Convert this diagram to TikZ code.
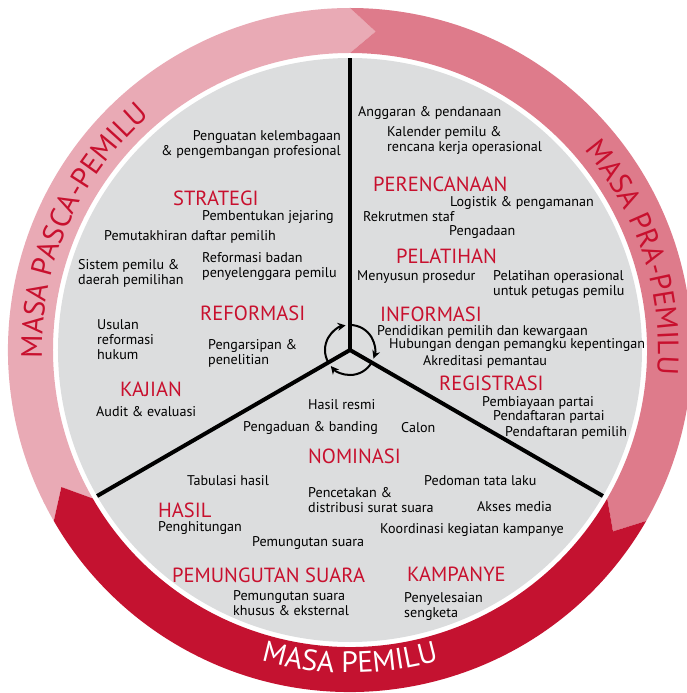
\documentclass[tikz,border=0pt]{standalone}
\usepackage{fontspec}
\setmainfont{PT Sans}
\usetikzlibrary{arrows.meta,decorations.text}

\definecolor{pascapink}{HTML}{E9AAB5}
\definecolor{prapink}{HTML}{DE7B8B}
\definecolor{pemilured}{HTML}{C41230}
\definecolor{discgrey}{HTML}{DCDDDE}
\definecolor{headred}{HTML}{C8102E}

\begin{document}
\begin{tikzpicture}[x=1pt,y=1pt,
    item/.style={anchor=west, inner sep=0pt, align=left, font=\fontsize{14.1}{15}\selectfont},
    head/.style={anchor=west, inner sep=0pt, text=headred, font=\fontsize{20.5}{20}\selectfont},
    divider/.style={line width=4pt},
    turn/.style={line width=2pt, -{Stealth[length=8pt,width=8pt]}},
    ringtext/.style 2 args={decorate, decoration={text along path, text align=center,
        text color=#1, text={|\fontsize{29.5}{30}\selectfont|#2}}}]
  \useasboundingbox (-350,-343) rectangle (337,350);

  % outer ring: three arrow-shaped bands, clockwise
  \foreach \s/\e/\c in {210/90/pascapink, 90/-30/prapink, -30/-150/pemilured}
    \fill[\c] (\s:342) arc[start angle=\s, end angle=\e, radius=342]
      -- ({\e-4.6}:319.5) -- (\e:297) arc[start angle=\e, end angle=\s, radius=297]
      -- ({\s-4.6}:319.5) -- cycle;

  \path[ringtext={headred}{MASA PASCA-PEMILU}] (206:308) arc[start angle=206, end angle=106, radius=308];
  \path[ringtext={headred}{MASA PRA-PEMILU}] (68:308) arc[start angle=68, end angle=-32, radius=308];
  \path[ringtext={white}{MASA PEMILU}] (230:323) arc[start angle=230, end angle=310, radius=323];

  % inner disc and the three sectors
  \fill[discgrey] (0,0) circle[radius=292];
  \coordinate (o) at (0,0);
  \foreach \a in {90,210,330} {
    \coordinate (rim\a) at (\a:292);
    \draw[divider] (o) -- (rim\a);
  }

  % cycle arrows round the centre
  \draw[turn] (90:25) arc[start angle=90, end angle=-20, radius=25];
  \draw[turn] (-30:25) arc[start angle=-30, end angle=-140, radius=25];
  \draw[turn] (210:25) arc[start angle=210, end angle=100, radius=25];

  % pasca-pemilu sector
  \node[item, anchor=east, align=right] (kelembagaan) at (-9,205) {Penguatan kelembagaan\\\& pengembangan profesional};
  \node[head] (strategi) at (-177,152) {STRATEGI};
  \node[item] (jejaring) at (-148,133) {Pembentukan jejaring};
  \node[item] (pemutakhiran) at (-246,113) {Pemutakhiran daftar pemilih};
  \node[item] (sistem) at (-272,76.5) {Sistem pemilu \&\\daerah pemilihan};
  \node[item] (badan) at (-148,83.5) {Reformasi badan\\penyelenggara pemilu};
  \node[head] (reformasi) at (-150,37) {REFORMASI};
  \node[item] (usulan) at (-253,10) {Usulan\\reformasi\\hukum};
  \node[item] (arsip) at (-142,-3.5) {Pengarsipan \&\\penelitian};
  \node[head] (kajian) at (-230,-39) {KAJIAN};
  \node[item] (audit) at (-254,-62) {Audit \& evaluasi};

  % pra-pemilu sector
  \node[item] (anggaran) at (8,237) {Anggaran \& pendanaan};
  \node[item] (kalender) at (37,209.5) {Kalender pemilu \&\\rencana kerja operasional};
  \node[head] (perencanaan) at (23,166) {PERENCANAAN};
  \node[item] (logistik) at (100,147) {Logistik \& pengamanan};
  \node[item] (rekrutmen) at (13,133) {Rekrutmen staf};
  \node[item] (pengadaan) at (99,118) {Pengadaan};
  \node[head] (pelatihan) at (46,94) {PELATIHAN};
  \node[item] (prosedur) at (7,73) {Menyusun prosedur};
  \node[item] (operasional) at (143,65.5) {Pelatihan operasional\\untuk petugas pemilu};
  \node[head] (informasi) at (30,36) {INFORMASI};
  \node[item] (pendidikan) at (27,18) {Pendidikan pemilih dan kewargaan};
  \node[item] (hubungan) at (39,5) {Hubungan dengan pemangku kepentingan};
  \node[item] (akreditasi) at (73,-12) {Akreditasi pemantau};
  \node[head] (registrasi) at (89,-33) {REGISTRASI};
  \node[item] (pembiayaan) at (132,-53) {Pembiayaan partai};
  \node[item] (partai) at (143,-67) {Pendaftaran partai};
  \node[item] (pemilih) at (155,-83) {Pendaftaran pemilih};

  % pemilu sector
  \node[item] (resmi) at (-42,-55) {Hasil resmi};
  \node[item] (banding) at (-107,-78) {Pengaduan \& banding};
  \node[item] (calon) at (51,-78) {Calon};
  \node[head] (nominasi) at (-42,-106) {NOMINASI};
  \node[item] (tabulasi) at (-163,-131) {Tabulasi hasil};
  \node[item] (pedoman) at (74,-131) {Pedoman tata laku};
  \node[item] (pencetakan) at (-42,-150.5) {Pencetakan \&\\distribusi surat suara};
  \node[item] (media) at (127,-157) {Akses media};
  \node[head] (hasil) at (-192,-160) {HASIL};
  \node[item] (penghitungan) at (-192,-178) {Penghitungan};
  \node[item] (koordinasi) at (30,-180) {Koordinasi kegiatan kampanye};
  \node[item] (pemungutan) at (-98,-193) {Pemungutan suara};
  \node[head] (suara) at (-178,-225) {PEMUNGUTAN SUARA};
  \node[head] (kampanye) at (57,-224) {KAMPANYE};
  \node[item] (khusus) at (-117,-253.5) {Pemungutan suara\\khusus \& eksternal};
  \node[item] (sengketa) at (54,-257) {Penyelesaian\\sengketa};
\end{tikzpicture}
\end{document}
